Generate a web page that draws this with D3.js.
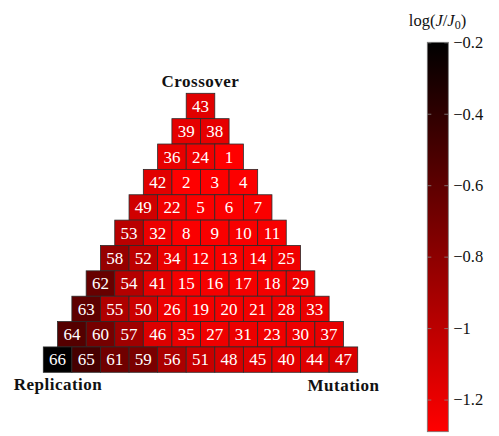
<!DOCTYPE html>
<html><head><meta charset="utf-8">
<script src="https://cdn.jsdelivr.net/npm/d3@7"></script>
<style>body{margin:0;background:#fff}svg{display:block}</style>
</head><body>
<script>
// Rows of the triangle, top to bottom (rank labels)
const rows = [
  [43],
  [39,38],
  [36,24,1],
  [42,2,3,4],
  [49,22,5,6,7],
  [53,32,8,9,10,11],
  [58,52,34,12,13,14,25],
  [62,54,41,15,16,17,18,29],
  [63,55,50,26,19,20,21,28,33],
  [64,60,57,46,35,27,31,23,30,37],
  [66,65,61,59,56,51,48,45,40,44,47]
];
// log(J/J0) estimated for rank 1..66
const rankValues = [
 -1.29,-1.285,-1.28,-1.278,-1.275,-1.272,-1.27,-1.268,-1.265,-1.262,
 -1.26,-1.257,-1.255,-1.252,-1.25,-1.248,-1.245,-1.242,-1.24,-1.238,
 -1.235,-1.232,-1.23,-1.228,-1.225,-1.222,-1.22,-1.218,-1.215,-1.212,
 -1.21,-1.207,-1.205,-1.2,-1.197,-1.19,-1.19,-1.185,-1.18,-1.175,
 -1.17,-1.16,-1.16,-1.155,-1.15,-1.14,-1.13,-1.11,-1.09,-1.07,
 -1.05,-1.01,-0.99,-0.97,-0.95,-0.93,-0.88,-0.84,-0.72,-0.70,
 -0.68,-0.64,-0.60,-0.56,-0.50,-0.20
];
const cornerLabels = ["Crossover","Replication","Mutation"];
const cbTicks = [-0.2,-0.4,-0.6,-0.8,-1,-1.2];
const cbDomain = [-1.29,-0.2];

const FONT="'Liberation Serif','DejaVu Serif',serif";
const W=499,H=436;
const svg=d3.select("body").append("svg").attr("width",W).attr("height",H);

const xs=d3.scaleLinear().domain([-5.5,5.5]).range([43.3,357.7]);
const ys=d3.scaleLinear().domain([0,11]).range([93.3,372.3]);
const color=d3.scaleLinear().domain(cbDomain).range(["#ff0000","#000000"]);

const cells=[];
rows.forEach((row,r)=>row.forEach((rank,i)=>cells.push({r,i,rank,v:rankValues[rank-1],x0:i-r/2-0.5,x1:i-r/2+0.5})));

const g=svg.append("g");
g.selectAll("rect").data(cells).join("rect")
 .attr("x",d=>xs(d.x0)).attr("y",d=>ys(d.r))
 .attr("width",d=>xs(d.x1)-xs(d.x0)).attr("height",d=>ys(d.r+1)-ys(d.r))
 .attr("fill",d=>color(d.v)).attr("stroke","#2a2a2a").attr("stroke-width",0.8);
g.selectAll("text").data(cells).join("text")
 .attr("x",d=>(xs(d.x0)+xs(d.x1))/2).attr("y",d=>(ys(d.r)+ys(d.r+1))/2+5.8)
 .attr("text-anchor","middle").attr("fill","#fff")
 .style("font-family",FONT).style("font-size","17px")
 .text(d=>d.rank);

const lab=svg.append("g").style("font-family",FONT)
 .style("font-weight","bold").style("font-size","17px").style("letter-spacing","0.5px").attr("fill","#111");
lab.append("text").attr("x",200.5).attr("y",87).attr("text-anchor","middle").text(cornerLabels[0]);
lab.append("text").attr("x",58).attr("y",389.5).attr("text-anchor","middle").text(cornerLabels[1]);
lab.append("text").attr("x",343.5).attr("y",391).attr("text-anchor","middle").text(cornerLabels[2]);

// colorbar
const cbx=427.3,cbw=21;
const cy=d3.scaleLinear().domain(cbDomain).range([431.7,42.3]);
const defs=svg.append("defs");
const grad=defs.append("linearGradient").attr("id","cb").attr("x1",0).attr("y1",1).attr("x2",0).attr("y2",0);
grad.append("stop").attr("offset",0).attr("stop-color",color(cbDomain[0]));
grad.append("stop").attr("offset",1).attr("stop-color",color(cbDomain[1]));
svg.append("rect").attr("x",cbx).attr("y",cy(cbDomain[1])).attr("width",cbw)
 .attr("height",cy(cbDomain[0])-cy(cbDomain[1])).attr("fill","url(#cb)")
 .attr("stroke","#777").attr("stroke-width",0.8);
const axis=d3.axisRight(cy).tickValues(cbTicks).tickSize(0).tickPadding(5)
 .tickFormat(d=>d3.format("")(d).replace("-","\u2212"));
const ag=svg.append("g").attr("transform",`translate(${cbx+cbw},0)`).call(axis);
ag.select(".domain").remove();
ag.selectAll("text").style("font-family",FONT).style("font-size","16.5px").attr("fill","#111");
ag.selectAll(".tick").each(function(){
  const t=d3.select(this);
  t.append("line").attr("x1",-4).attr("x2",0).attr("stroke","#888").attr("stroke-width",0.8);
  t.append("line").attr("x1",-cbw).attr("x2",-cbw+4).attr("stroke","#888").attr("stroke-width",0.8);
});
const title=svg.append("text").attr("x",437.5).attr("y",26).attr("text-anchor","middle")
 .style("font-family",FONT).style("font-size","16.5px").attr("fill","#111");
title.append("tspan").text("log(");
title.append("tspan").attr("font-style","italic").text("J");
title.append("tspan").text("/");
title.append("tspan").attr("font-style","italic").text("J");
title.append("tspan").style("font-size","12px").attr("dy",3).text("0");
title.append("tspan").attr("dy",-3).text(")");
</script>
</body></html>
